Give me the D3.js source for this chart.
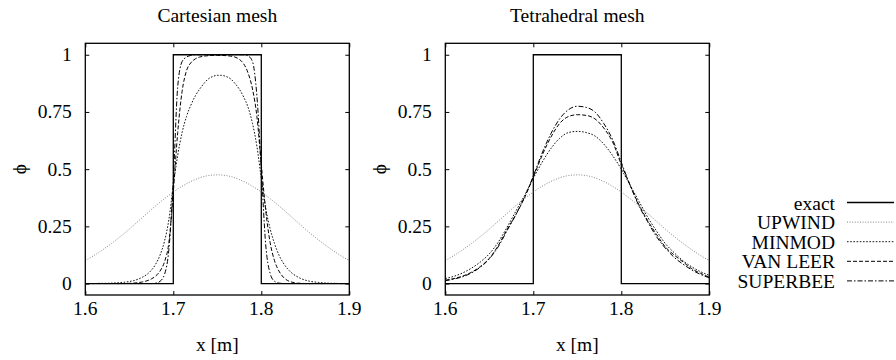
<!DOCTYPE html>
<html>
<head>
<meta charset="utf-8">
<script src="https://cdn.jsdelivr.net/npm/d3@7"></script>
<style>
  html, body { margin: 0; padding: 0; background: #fff; }
  svg text { font-family: "Liberation Serif", "Times New Roman", serif; fill: #000; }
</style>
</head>
<body>
<svg id="chart" width="896" height="360"></svg>
<script>
// ---------------- DATA ----------------
const panelTitles = ["Cartesian mesh", "Tetrahedral mesh"];
const seriesNames = ["exact", "UPWIND", "MINMOD", "VAN LEER", "SUPERBEE"];
const xTicks = [1.6, 1.7, 1.8, 1.9];
const xTickLabels = ["1.6", "1.7", "1.8", "1.9"];
const yTicks = [0, 0.25, 0.5, 0.75, 1];
const yTickLabels = ["0", "0.25", "0.5", "0.75", "1"];
const xLabel = "x [m]";
const yLabel = "\u03d5";

// exact solution (step)
const exactX = [1.6, 1.7, 1.7, 1.8, 1.8, 1.9];
const exactY = [0, 0, 1, 1, 0, 0];

// coarse grid (step 0.01)
const gridCoarse = [1.60,1.61,1.62,1.63,1.64,1.65,1.66,1.67,1.68,1.69,1.70,1.71,1.72,1.73,1.74,1.75,
                    1.76,1.77,1.78,1.79,1.80,1.81,1.82,1.83,1.84,1.85,1.86,1.87,1.88,1.89,1.90];
// fine grid (step 0.005)
const gridFine = d3.range(61).map(i => +(1.6 + i * 0.005).toFixed(3));

// Cartesian mesh
const cartUpwind = [0.100,0.123,0.148,0.176,0.206,0.238,0.272,0.306,0.340,0.371,0.400,0.425,0.446,0.462,0.472,0.475,
                    0.472,0.462,0.446,0.425,0.400,0.371,0.340,0.306,0.272,0.238,0.206,0.176,0.148,0.123,0.100];
const cartMinmod = [0.000,0.000,0.000,0.001,0.001,0.001,0.002,0.003,0.004,0.006,
                    0.009,0.013,0.019,0.028,0.040,0.058,0.085,0.125,0.185,0.28,
                    0.43,0.56,0.66,0.73,0.78,0.82,0.85,0.875,0.895,0.905,
                    0.91,0.91,0.905,0.895,0.875,0.85,0.815,0.77,0.70,0.60,
                    0.46,0.33,0.24,0.175,0.125,0.09,0.064,0.045,0.032,0.022,
                    0.015,0.010,0.007,0.005,0.003,0.002,0.001,0.001,0.000,0.000,0.000];
const cartVanLeer = [0,0,0,0,0,0,0,0,0,0,
                     0.001,0.002,0.004,0.007,0.012,0.02,0.033,0.055,0.095,0.18,
                     0.40,0.66,0.84,0.93,0.965,0.982,0.99,0.994,0.996,0.997,
                     0.997,0.997,0.996,0.994,0.99,0.98,0.96,0.92,0.85,0.73,
                     0.52,0.32,0.18,0.10,0.055,0.028,0.013,0.006,0.002,0.001,
                     0,0,0,0,0,0,0,0,0,0,0];
const cartSuperbee = [0,0,0,0,0,0,0,0,0,0,0,0,0,0,0,0,
                      0.002,0.01,0.04,0.15,0.45,0.86,0.97,0.99,0.997,
                      1,1,1,1,1,1,1,1,1,1,1,1,
                      0.995,0.97,0.82,0.50,0.17,0.045,0.01,0.002,
                      0,0,0,0,0,0,0,0,0,0,0,0,0,0,0,0];

// Tetrahedral mesh
const tetUpwind = [0.100,0.123,0.148,0.176,0.206,0.238,0.272,0.306,0.340,0.371,0.400,0.425,0.446,0.462,0.472,0.475,
                   0.472,0.462,0.446,0.425,0.400,0.371,0.340,0.306,0.272,0.238,0.206,0.176,0.148,0.123,0.100];
const tetMinmod = [0.022,0.032,0.047,0.068,0.095,0.13,0.18,0.245,0.315,0.385,0.46,0.53,0.59,0.635,0.66,0.665,
                   0.66,0.645,0.61,0.56,0.50,0.43,0.36,0.29,0.23,0.175,0.135,0.10,0.073,0.052,0.036];
const tetVanLeer = [0.015,0.022,0.033,0.05,0.075,0.11,0.165,0.235,0.30,0.375,0.465,0.56,0.64,0.70,0.73,0.738,
                    0.735,0.72,0.68,0.62,0.52,0.43,0.345,0.275,0.215,0.16,0.125,0.095,0.065,0.045,0.028];
const tetSuperbee = [0.012,0.02,0.03,0.047,0.072,0.108,0.16,0.23,0.30,0.378,0.47,0.57,0.655,0.72,0.76,0.775,
                     0.77,0.75,0.70,0.63,0.53,0.43,0.34,0.27,0.205,0.155,0.115,0.085,0.06,0.04,0.025];

// ---------------- STYLES ----------------
const styles = {
  "exact":    { dash: null,        color: "#000", width: 1.3 },
  "UPWIND":   { dash: "1,1.6",     color: "#666", width: 0.8 },
  "MINMOD":   { dash: "1.6,1.6",   color: "#111", width: 1.0 },
  "VAN LEER": { dash: "4,2",       color: "#000", width: 1.0 },
  "SUPERBEE": { dash: "5,2,1.5,2", color: "#000", width: 1.0 }
};

const panels = [
  { title: panelTitles[0], left: 85.3, series: [
      { name: "exact", x: exactX, y: exactY, curve: d3.curveLinear },
      { name: "UPWIND", x: gridCoarse, y: cartUpwind },
      { name: "MINMOD", x: gridFine, y: cartMinmod },
      { name: "VAN LEER", x: gridFine, y: cartVanLeer },
      { name: "SUPERBEE", x: gridFine, y: cartSuperbee } ] },
  { title: panelTitles[1], left: 445.3, series: [
      { name: "exact", x: exactX, y: exactY, curve: d3.curveLinear },
      { name: "UPWIND", x: gridCoarse, y: tetUpwind },
      { name: "MINMOD", x: gridCoarse, y: tetMinmod },
      { name: "VAN LEER", x: gridCoarse, y: tetVanLeer },
      { name: "SUPERBEE", x: gridCoarse, y: tetSuperbee } ] }
];

// ---------------- DRAW ----------------
(function draw() {
const svg = d3.select("#chart");
const W = 264, plotTop = 43.3, plotBottom = 295;
const fontSize = 19.5;
const tickLen = 4;

panels.forEach((p, pi) => {
  const x = d3.scaleLinear().domain([1.6, 1.9]).range([p.left, p.left + W]);
  const y = d3.scaleLinear().domain([-0.05, 1.05]).range([plotBottom, plotTop]);
  const g = svg.append("g");

  const clipId = "clip" + pi;
  svg.append("clipPath").attr("id", clipId).append("rect")
    .attr("x", p.left).attr("y", plotTop).attr("width", W).attr("height", plotBottom - plotTop);

  // series
  const plot = g.append("g").attr("clip-path", `url(#${clipId})`);
  p.series.forEach(s => {
    const st = styles[s.name];
    const pts = s.x.map((xv, i) => [xv, s.y[i]]);
    const line = d3.line().x(d => x(d[0])).y(d => y(d[1])).curve(s.curve || d3.curveMonotoneX);
    plot.append("path").attr("d", line(pts))
      .attr("fill", "none").attr("stroke", st.color).attr("stroke-width", st.width)
      .attr("stroke-dasharray", st.dash);
  });

  // axes with inner ticks (mirrored)
  const axB = d3.axisBottom(x).tickValues(xTicks).tickSize(-tickLen).tickFormat("");
  const axT = d3.axisTop(x).tickValues(xTicks).tickSize(-tickLen).tickFormat("");
  const axL = d3.axisLeft(y).tickValues(yTicks).tickSize(-tickLen).tickFormat("");
  const axR = d3.axisRight(y).tickValues(yTicks).tickSize(-tickLen).tickFormat("");
  [[axB, `translate(0,${plotBottom})`], [axT, `translate(0,${plotTop})`],
   [axL, `translate(${p.left},0)`], [axR, `translate(${p.left + W},0)`]].forEach(([ax, tr]) => {
    const a = g.append("g").attr("transform", tr).call(ax);
    a.select(".domain").remove();
    a.selectAll(".tick line").attr("stroke", "#000").attr("stroke-width", 1);
  });

  // frame
  g.append("rect").attr("x", p.left).attr("y", plotTop).attr("width", W).attr("height", plotBottom - plotTop)
    .attr("fill", "none").attr("stroke", "#000").attr("stroke-width", 1.3);

  // tick labels
  g.selectAll(".xtl").data(xTicks).enter().append("text")
    .attr("x", d => x(d)).attr("y", 315).attr("text-anchor", "middle")
    .attr("font-size", fontSize).text((d, i) => xTickLabels[i]);
  g.selectAll(".ytl").data(yTicks).enter().append("text")
    .attr("x", p.left - 13.5).attr("y", d => y(d) + 6.5).attr("text-anchor", "end")
    .attr("font-size", fontSize).text((d, i) => yTickLabels[i]);

  // titles and labels
  g.append("text").attr("x", p.left + W / 2).attr("y", 22).attr("text-anchor", "middle")
    .attr("font-size", fontSize).text(p.title);
  g.append("text").attr("x", p.left + W / 2).attr("y", 351).attr("text-anchor", "middle")
    .attr("font-size", fontSize).text(xLabel);
  const ly = (plotTop + plotBottom) / 2;
  const lx = p.left - 66;
  g.append("text").attr("transform", `translate(${lx},${ly}) rotate(-90)`)
    .attr("text-anchor", "middle").attr("dy", "0.35em")
    .attr("font-size", fontSize).text(yLabel);
});

// legend
const leg = svg.append("g");
seriesNames.forEach((name, i) => {
  const base = 209.5 + i * 19.6;
  const st = styles[name];
  leg.append("text").attr("x", 835).attr("y", base).attr("text-anchor", "end")
    .attr("font-size", fontSize).text(name);
  leg.append("line").attr("x1", 847).attr("x2", 894).attr("y1", base - 7).attr("y2", base - 7)
    .attr("stroke", st.color).attr("stroke-width", st.width).attr("stroke-dasharray", st.dash);
});
})();
</script>
</body>
</html>
